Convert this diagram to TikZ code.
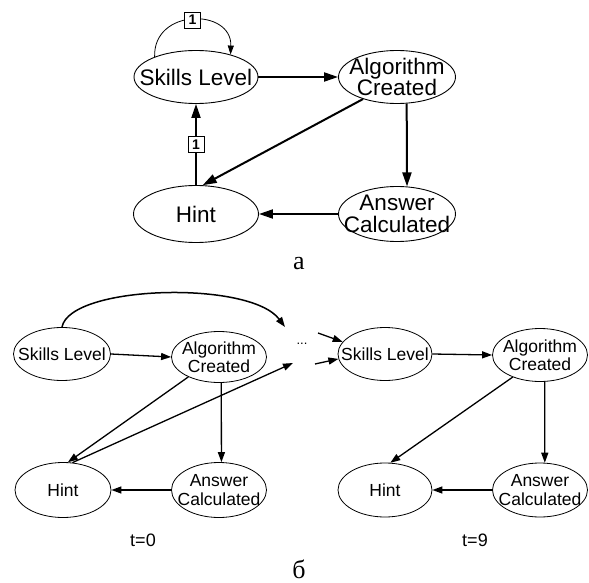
\documentclass[tikz,border=0pt]{standalone}
\usepackage{fontspec}
\setmainfont{Liberation Serif}
\setsansfont{Liberation Sans}
\usetikzlibrary{shapes.geometric,arrows.meta}
\begin{document}
\begin{tikzpicture}[x=1pt,y=-1pt,
  bigst/.style={ellipse,draw,line width=0.9pt,inner sep=0pt,
    label={[align=center,font=\sffamily\fontsize{22.5}{21.5}\selectfont,inner sep=0pt]center:#1}},
  smst/.style={ellipse,draw,line width=0.8pt,inner sep=0pt,
    label={[align=center,font=\sffamily\fontsize{17.5}{18.5}\selectfont,inner sep=0pt]center:#1}},
  tarr/.style={line width=2pt,-{Triangle[length=14pt,width=9pt]}},
  larr/.style={line width=0.8pt,-{Triangle[length=9pt,width=6pt]}},
  barr/.style={line width=1.3pt,-{Triangle[length=10pt,width=7pt]}},
  lbl/.style={draw,fill=white,line width=0.8pt,inner sep=0pt,minimum size=16pt,
    font=\sffamily\bfseries\fontsize{14}{14}\selectfont},
  tlabel/.style={font=\sffamily\fontsize{18}{18}\selectfont},
  sublabel/.style={font=\rmfamily\fontsize{26}{26}\selectfont}
]
\useasboundingbox (0,0) rectangle (589,583);

% ---- diagram a ----
\node[bigst={Skills Level},minimum width=124pt,minimum height=53pt] (S1) at (196,77) {};
\node[bigst={Algorithm\\Created},minimum width=117pt,minimum height=53pt] (A1) at (397,77) {};
\node[bigst={Hint},minimum width=125pt,minimum height=57pt] (H1) at (196,214) {};
\node[bigst={Answer\\Calculated},minimum width=117pt,minimum height=55pt] (C1) at (397,214) {};

\draw[tarr] (S1.east) -- (A1.west);
\draw[tarr] (A1.-70) -- (C1.70);
\draw[tarr] (C1.west) -- (H1.east);
\draw[tarr] (A1.213) -- (H1.77);
\draw[tarr] (H1.north) -- node[lbl] (n2) {1} (S1.south);
\draw[larr] (S1.154) .. controls (153,8) and (232,8) .. (S1.33) node[lbl,pos=0.5] (n1) {1};

\node[sublabel] (la) at (299,264) {a};

% ---- diagram b, t=0 ----
\node[smst={Skills Level},minimum width=97pt,minimum height=53pt] (S2) at (62,354) {};
\node[smst={Algorithm\\Created},minimum width=95pt,minimum height=51pt] (A2) at (219,357) {};
\node[smst={Hint},minimum width=96pt,minimum height=55pt] (H2) at (63,490) {};
\node[smst={Answer\\Calculated},minimum width=95pt,minimum height=55pt] (C2) at (219,490) {};

\coordinate (e1) at (285,327);
\coordinate (e2) at (293,363);
\coordinate (p1) at (318,333);
\coordinate (p2) at (315,364);
\node[font=\sffamily\fontsize{13}{13}\selectfont,anchor=base,inner sep=0pt] (dd) at (302,344) {...};

\draw[barr] (S2.east) -- (A2.west);
\draw[barr] (A2.-85) -- (C2.85);
\draw[barr] (C2.west) -- (H2.east);
\draw[barr] (A2.213) -- (H2.80);
\draw[barr] (H2.71) -- (e2);
\draw[barr,line width=1.5pt] (S2.90) .. controls (70,285) and (250,280) .. (e1);

% ---- t=9 ----
\node[smst={Skills Level},minimum width=94pt,minimum height=53pt] (S3) at (385,354) {};
\node[smst={Algorithm\\Created},minimum width=95pt,minimum height=53pt] (A3) at (540,355) {};
\node[smst={Hint},minimum width=94pt,minimum height=54pt] (H3) at (385,490) {};
\node[smst={Answer\\Calculated},minimum width=95pt,minimum height=54pt] (C3) at (540,490) {};

\draw[barr] (p1) -- (S3.164);
\draw[barr] (p2) -- (S3.186);
\draw[barr] (S3.east) -- (A3.west);
\draw[barr] (A3.-80) -- (C3.80);
\draw[barr] (C3.west) -- (H3.east);
\draw[barr] (A3.219) -- (H3.79);

\node[tlabel] (t0) at (143,540) {t=0};
\node[tlabel] (t9) at (475,540) {t=9};
\node[sublabel] (lb) at (299,569) {б};
\end{tikzpicture}
\end{document}
